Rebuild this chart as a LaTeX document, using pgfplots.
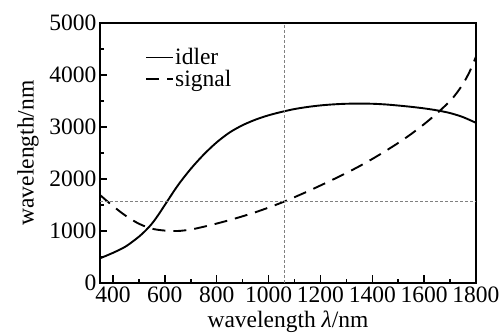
\documentclass[border=0pt]{standalone}
\usepackage{fontspec}
\setmainfont{Liberation Serif}
\usepackage{pgfplots}
\pgfplotsset{compat=1.18}
\begin{document}
\begin{tikzpicture}
\begin{axis}[
  scale only axis,
  width=376pt, height=260pt,
  xmin=350, xmax=1800, ymin=0, ymax=5000,
  xtick={400,600,...,1800},
  ytick={0,1000,...,5000},
  minor x tick num=1, minor y tick num=1,
  tick align=inside,
  xtick pos=left, ytick pos=left,
  major tick length=7.5pt, minor tick length=4pt,
  every tick/.style={line width=1.5pt, black},
  axis line style={line width=2.4pt},
  /pgf/number format/assume math mode=true,
  /pgf/number format/1000 sep={},
  ticklabel style={font=\fontsize{23.5}{23}\selectfont},
  label style={font=\fontsize{23.5}{23}\selectfont},
  xlabel={wavelength \textit{λ}/nm},
  ylabel={wavelength/nm},
  xlabel style={yshift=-2pt},
  ylabel style={yshift=4pt},
  legend style={draw=none, fill=none, at={(rel axis cs:0.12,0.91)}, anchor=north west,
    font=\fontsize{23.5}{20}\selectfont, row sep=0pt, inner sep=0pt,
    nodes={inner xsep=1pt}},
  legend cell align=left,
  legend image code/.code={\draw[#1] (0pt,0pt) -- (27pt,0pt);},
]
\addplot[black, line width=1.9pt, smooth] coordinates {
(350,475) (400,580) (450,705) (500,890) (525,1005) (550,1140) (575,1310) (600,1500)
(650,1875) (700,2195) (750,2470) (800,2705) (850,2895) (900,3035) (950,3142) (1000,3225)
(1050,3290) (1100,3345) (1150,3385) (1200,3415) (1250,3435) (1300,3447) (1350,3450)
(1400,3447) (1450,3434) (1500,3413) (1550,3388) (1600,3358) (1650,3320) (1700,3268)
(1750,3190) (1800,3080)
};
\addlegendentry{idler}
\addplot[black, line width=1.9pt, smooth, dash pattern=on 13pt off 8pt] coordinates {
(350,1692) (400,1480) (450,1290) (500,1140) (550,1045) (600,1008) (650,1000) (700,1028)
(750,1082) (800,1143) (850,1210) (900,1283) (950,1362) (1000,1450) (1050,1545) (1100,1650)
(1150,1760) (1200,1875) (1250,1993) (1300,2115) (1350,2245) (1400,2385) (1450,2535)
(1500,2693) (1550,2865) (1600,3055) (1650,3265) (1700,3500) (1725,3650) (1750,3830)
(1775,4060) (1800,4352)
};
\addlegendentry{signal}
\addplot[gray, line width=1pt, dash pattern=on 3pt off 2pt, forget plot] coordinates {(1060,0) (1060,5000)};
\addplot[gray, line width=1pt, dash pattern=on 3pt off 2pt, forget plot] coordinates {(350,1560) (1800,1560)};
\end{axis}
\pgfresetboundingbox
\path[use as bounding box] (-100pt,-51pt) rectangle (404pt,283pt);
\end{tikzpicture}
\end{document}
